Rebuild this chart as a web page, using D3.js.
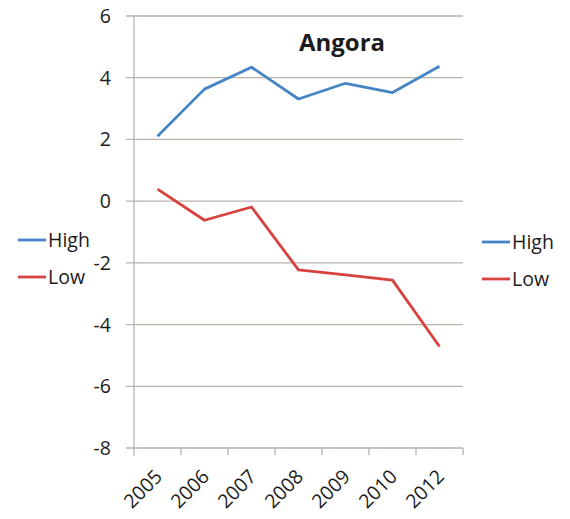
<!DOCTYPE html>
<html><head><meta charset="utf-8">
<script src="https://cdn.jsdelivr.net/npm/d3@7"></script>
<style>body{margin:0;background:#fff;} text{font-family:"Open Sans","DejaVu Sans",sans-serif;fill:#1c1c1c;}</style>
</head><body>
<svg id="c" width="570" height="519"></svg>
<script>
const categories = ["2005","2006","2007","2008","2009","2010","2012"];
const highValues = [2.1, 3.63, 4.34, 3.31, 3.82, 3.52, 4.37];
const lowValues = [0.39, -0.62, -0.19, -2.23, -2.39, -2.56, -4.71];
const yTicks = [6,4,2,0,-2,-4,-6,-8];
const seriesNames = ["High","Low"];
const colors = ["#4585c4","#d8423e"];

const svg = d3.select("#c");
const pLeft=134, pRight=463, pTop=16, pBottom=448;
const x = d3.scaleBand().domain(categories).range([pLeft,pRight]);
const y = d3.scaleLinear().domain([-8,6]).range([pBottom,pTop]);
const grid="#bbb1ab";
const fs = 19.5;

// gridlines
svg.append("g").selectAll("line").data(yTicks).join("line")
  .attr("x1",pLeft-8).attr("x2",pRight).attr("y1",d=>y(d)).attr("y2",d=>y(d))
  .attr("stroke",grid).attr("stroke-width",1.3);
// y axis line
svg.append("line").attr("x1",pLeft).attr("x2",pLeft).attr("y1",pTop).attr("y2",pBottom+8)
  .attr("stroke",grid).attr("stroke-width",1.3);
// x tick marks at band boundaries
const bounds = categories.map(c=>x(c)).concat([pRight]);
svg.append("g").selectAll("line").data(bounds.slice(1)).join("line")
  .attr("x1",d=>d).attr("x2",d=>d).attr("y1",pBottom).attr("y2",pBottom+7)
  .attr("stroke",grid).attr("stroke-width",1.3);
// y labels
svg.append("g").selectAll("text").data(yTicks).join("text")
  .attr("x",111).attr("y",d=>y(d)).attr("dy","0.36em").attr("text-anchor","end")
  .attr("font-size",fs).text(d=>d);
// x labels rotated
svg.append("g").selectAll("text").data(categories).join("text")
  .attr("transform",d=>`translate(${x(d)+x.bandwidth()/2+1},${pBottom+25}) rotate(-45)`)
  .attr("text-anchor","end").attr("dy","0.36em").attr("font-size",fs).text(d=>d);

// lines
const line = d3.line().x((d,i)=>x(categories[i])+x.bandwidth()/2).y(d=>y(d));
[highValues,lowValues].forEach((vals,k)=>{
  svg.append("path").datum(vals).attr("d",line).attr("fill","none")
    .attr("stroke",colors[k]).attr("stroke-width",2.8).attr("stroke-linejoin","round");
});

// title
svg.append("text").attr("x",342).attr("y",51).attr("text-anchor","middle")
  .attr("font-size",24).attr("font-weight","bold").text("Angora");

// legends
function legend(lx, ys){
  seriesNames.forEach((n,k)=>{
    svg.append("line").attr("x1",lx).attr("x2",lx+28).attr("y1",ys[k]).attr("y2",ys[k])
      .attr("stroke",colors[k]).attr("stroke-width",2.8);
    svg.append("text").attr("x",lx+30).attr("y",ys[k]).attr("dy","0.36em")
      .attr("font-size",fs).text(n);
  });
}
legend(18,[240,277]);
legend(482,[242,279]);
</script>
</body></html>
